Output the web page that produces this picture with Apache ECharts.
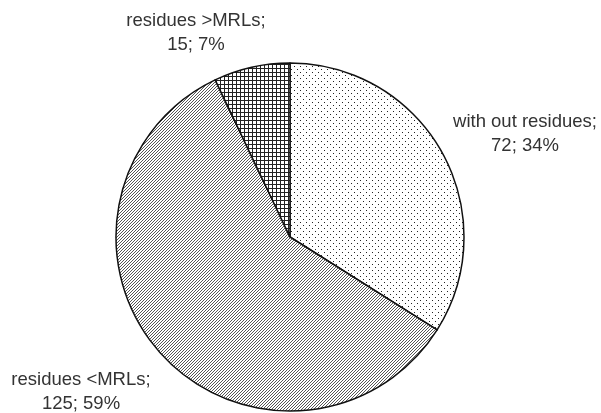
<!DOCTYPE html>
<html>
<head>
<meta charset="utf-8">
<script src="https://cdn.jsdelivr.net/npm/echarts@6/dist/echarts.min.js"></script>
<style>
  html, body { margin: 0; padding: 0; background: #fff; }
  #chart { width: 601px; height: 413px; }
</style>
</head>
<body>
<div id="chart"></div>
<script>
// Sample counts by residue status
const categories = ['with out residues', 'residues <MRLs', 'residues >MRLs'];
const counts = [72, 125, 15];

// Label anchor points (centre of each two-line label)
const labelAnchors = [
  { x: 525, y: 134 },
  { x: 81, y: 392 },
  { x: 196, y: 33 }
];

// Monochrome fill textures: dots, diagonal hatch, cross-hatch
function makeTile(size, draw) {
  const c = document.createElement('canvas');
  c.width = size; c.height = size;
  const g = c.getContext('2d');
  g.fillStyle = '#ffffff';
  g.fillRect(0, 0, size, size);
  draw(g);
  return c;
}
const dotTile = makeTile(6, g => {
  g.fillStyle = '#222';
  g.fillRect(0, 0, 1, 1);
  g.fillRect(3, 3, 1, 1);
});
const hatchTile = makeTile(3, g => {
  g.fillStyle = '#555';
  g.fillRect(2, 0, 1, 1);
  g.fillRect(1, 1, 1, 1);
  g.fillRect(0, 2, 1, 1);
});
const gridTile = makeTile(4, g => {
  g.fillStyle = '#222';
  g.fillRect(0, 0, 4, 1);
  g.fillRect(0, 0, 1, 4);
});
const fills = [dotTile, hatchTile, gridTile];

const chart = echarts.init(document.getElementById('chart'), null, { renderer: 'canvas' });
chart.setOption({
  backgroundColor: '#ffffff',
  animation: false,
  series: [{
    type: 'pie',
    center: [290, 237],
    radius: 174,
    startAngle: 90,
    clockwise: true,
    percentPrecision: 0,
    avoidLabelOverlap: false,
    data: categories.map((name, i) => ({
      name: name,
      value: counts[i],
      itemStyle: { color: { image: fills[i], repeat: 'repeat' } }
    })),
    itemStyle: { borderColor: '#111', borderWidth: 1.5 },
    label: {
      show: true,
      formatter: '{b};\n{c}; {d}%',
      fontFamily: 'Liberation Sans, Arial, sans-serif',
      fontSize: 18.5,
      lineHeight: 24,
      color: '#333',
      align: 'center'
    },
    labelLine: { show: false },
    labelLayout: function (params) {
      const a = labelAnchors[params.dataIndex];
      return { x: a.x, y: a.y, align: 'center', verticalAlign: 'middle', hideOverlap: false };
    },
    emphasis: { disabled: true }
  }]
});
</script>
</body>
</html>
